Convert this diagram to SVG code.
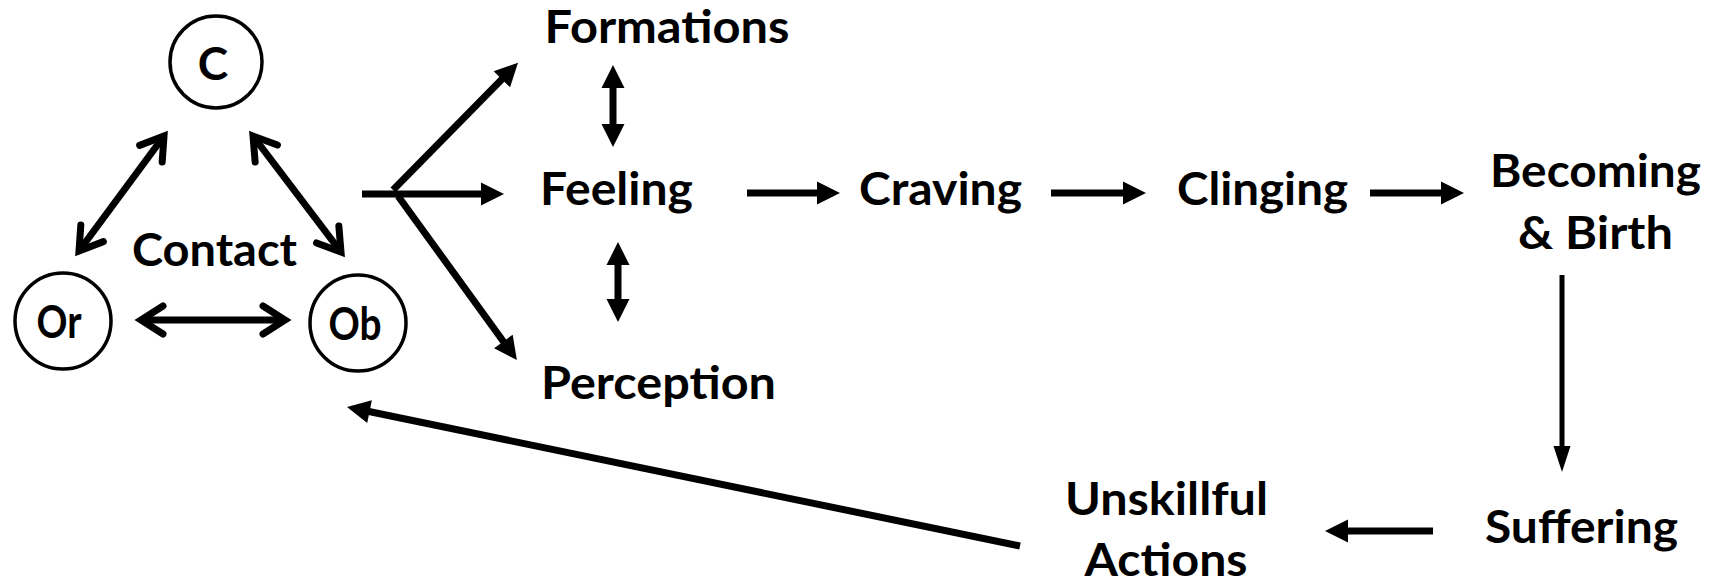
<svg xmlns="http://www.w3.org/2000/svg" width="1720" height="586" viewBox="0 0 1720 586">
  <style>
    .lbl { font-family: Lato, "Liberation Sans", sans-serif; font-weight: 700; font-size: 46px; fill: #000; text-anchor: middle; }
    .ring { fill: #fff; stroke: #000; stroke-width: 3.5; }
    .link { fill: none; stroke: #000; stroke-width: 7; stroke-linecap: butt; }
    .thin { fill: none; stroke: #000; stroke-width: 5; }
  </style>
  <defs>
    <!-- open chevron head for the contact triangle -->
    <marker id="chev" markerUnits="userSpaceOnUse" orient="auto-start-reverse" refX="0" refY="0" markerWidth="60" markerHeight="60" overflow="visible">
      <path d="M -22 -14 L 0 0 L -22 14" fill="none" stroke="#000" stroke-width="7" stroke-linecap="round" stroke-linejoin="miter"/>
    </marker>
    <!-- solid triangular head, tip 10px past the line end -->
    <marker id="tri" markerUnits="userSpaceOnUse" orient="auto-start-reverse" refX="0" refY="0" markerWidth="60" markerHeight="60" overflow="visible">
      <path d="M -13 -11.5 L 10 0 L -13 11.5 Z" fill="#000"/>
    </marker>
    <marker id="triNarrow" markerUnits="userSpaceOnUse" orient="auto" refX="0" refY="0" markerWidth="60" markerHeight="60" overflow="visible">
      <path d="M -16 -8.5 L 10 0 L -16 8.5 Z" fill="#000"/>
    </marker>
  </defs>

  <rect width="1720" height="586" fill="#fff"/>

  <g id="connectors">
    <line class="link" x1="79" y1="251" x2="164" y2="136" marker-start="url(#chev)" marker-end="url(#chev)"/>
    <line class="link" x1="253" y1="136" x2="341" y2="252" marker-start="url(#chev)" marker-end="url(#chev)"/>
    <line class="link" x1="141" y1="320" x2="285" y2="320" marker-start="url(#chev)" marker-end="url(#chev)"/>

    <line class="link" x1="362" y1="194" x2="494" y2="194" marker-end="url(#tri)"/>
    <line class="link" x1="393" y1="190" x2="511" y2="70" marker-end="url(#tri)"/>
    <line class="link" x1="398" y1="196" x2="511" y2="352" marker-end="url(#tri)"/>

    <line class="link" x1="613" y1="75" x2="613" y2="137" marker-start="url(#tri)" marker-end="url(#tri)"/>
    <line class="link" x1="618" y1="252" x2="618" y2="312" marker-start="url(#tri)" marker-end="url(#tri)"/>

    <line class="link" x1="747" y1="193" x2="830" y2="193" marker-end="url(#tri)"/>
    <line class="link" x1="1051" y1="193" x2="1136" y2="193" marker-end="url(#tri)"/>
    <line class="link" x1="1370" y1="193" x2="1454" y2="193" marker-end="url(#tri)"/>

    <line class="thin" x1="1562" y1="275" x2="1562" y2="462" marker-end="url(#triNarrow)"/>
    <line class="link" x1="1433" y1="531" x2="1335" y2="531" marker-end="url(#tri)"/>
    <line class="link" x1="1020" y1="546" x2="356.8" y2="409" marker-end="url(#tri)"/>
  </g>

  <g id="node-c">
    <circle class="ring" cx="216" cy="62" r="46"/>
    <text class="lbl" x="213" y="80">C</text>
  </g>
  <g id="node-or">
    <circle class="ring" cx="63" cy="321" r="48"/>
    <text class="lbl" x="59" y="338" textLength="45" lengthAdjust="spacingAndGlyphs">Or</text>
  </g>
  <g id="node-ob">
    <circle class="ring" cx="358" cy="323" r="48"/>
    <text class="lbl" x="355" y="340" textLength="53" lengthAdjust="spacingAndGlyphs">Ob</text>
  </g>
  <g id="node-contact">
    <text class="lbl" x="214.5" y="266" textLength="165" lengthAdjust="spacingAndGlyphs">Contact</text>
  </g>
  <g id="node-formations">
    <text class="lbl" x="667" y="43" textLength="245" lengthAdjust="spacingAndGlyphs">Formations</text>
  </g>
  <g id="node-feeling">
    <text class="lbl" x="616.5" y="205" textLength="153" lengthAdjust="spacingAndGlyphs">Feeling</text>
  </g>
  <g id="node-perception">
    <text class="lbl" x="658.5" y="399" textLength="235" lengthAdjust="spacingAndGlyphs">Perception</text>
  </g>
  <g id="node-craving">
    <text class="lbl" x="940.5" y="205" textLength="163" lengthAdjust="spacingAndGlyphs">Craving</text>
  </g>
  <g id="node-clinging">
    <text class="lbl" x="1262.5" y="205" textLength="171" lengthAdjust="spacingAndGlyphs">Clinging</text>
  </g>
  <g id="node-becoming">
    <text class="lbl" x="1595.5" y="187" textLength="211" lengthAdjust="spacingAndGlyphs">Becoming</text>
    <text class="lbl" x="1595.5" y="249" textLength="155" lengthAdjust="spacingAndGlyphs">&amp; Birth</text>
  </g>
  <g id="node-suffering">
    <text class="lbl" x="1581.5" y="543" textLength="193" lengthAdjust="spacingAndGlyphs">Suffering</text>
  </g>
  <g id="node-actions">
    <text class="lbl" x="1166.5" y="515" textLength="203" lengthAdjust="spacingAndGlyphs">Unskillful</text>
    <text class="lbl" x="1166" y="576" textLength="163" lengthAdjust="spacingAndGlyphs">Actions</text>
  </g>
</svg>
